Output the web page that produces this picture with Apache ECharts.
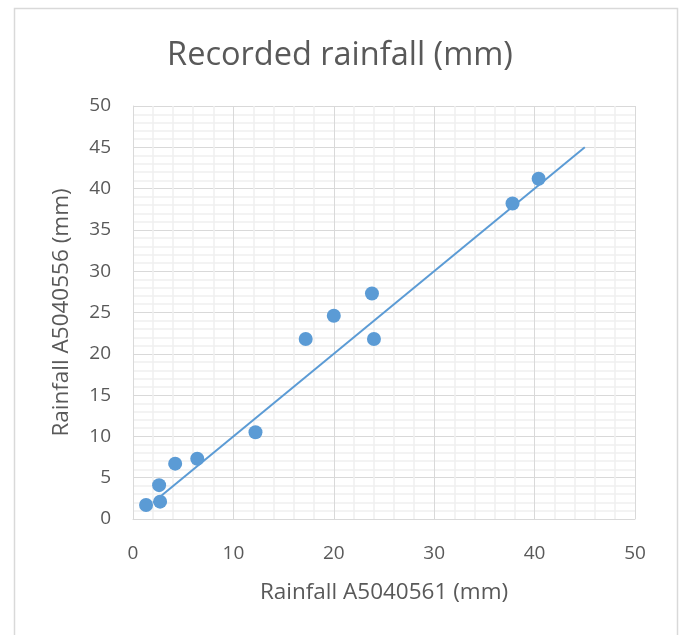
<!DOCTYPE html>
<html>
<head>
<meta charset="utf-8">
<script src="https://cdn.jsdelivr.net/npm/echarts@6/dist/echarts.min.js"></script>
<style>
  html, body { margin: 0; padding: 0; background: #ffffff; }
  #chart { width: 680px; height: 635px; }
</style>
</head>
<body>
<div id="chart"></div>
<script>
// Paired gauge readings (mm): station A5040561 on x, A5040556 on y
const rainA5040561 = [1.3, 2.7, 2.6, 4.2, 6.4, 12.2, 17.2, 20.0, 23.8, 24.0, 37.8, 40.4];
const rainA5040556 = [1.7, 2.1, 4.1, 6.7, 7.3, 10.5, 21.8, 24.6, 27.3, 21.8, 38.2, 41.2];

// 1:1 reference line endpoints
const refLineX = [2, 45];
const refLineY = [2, 45];

const titleText = 'Recorded rainfall (mm)';
const xAxisName = 'Rainfall A5040561 (mm)';
const yAxisName = 'Rainfall A5040556 (mm)';

const textColor = '#595959';
const markColor = '#5B9BD5';
const fontFamily = '"Open Sans", "Liberation Sans", sans-serif';

const points = rainA5040561.map((x, i) => [x, rainA5040556[i]]);
const refLine = refLineX.map((x, i) => [x, refLineY[i]]);

const chart = echarts.init(document.getElementById('chart'), null, { renderer: 'canvas' });

const axisCommon = {
  type: 'value',
  min: 0,
  max: 50,
  nameLocation: 'middle',
  nameTextStyle: { color: textColor, fontSize: 22.5, fontFamily },
  axisLine: { show: true, lineStyle: { color: '#d9d9d9', width: 1 } },
  axisTick: { show: false },
  minorTick: { show: false, splitNumber: 5 },
  axisLabel: { color: textColor, fontSize: 19, fontFamily },
  splitLine: { show: true, lineStyle: { color: '#d9d9d9', width: 1 } },
  minorSplitLine: { show: true, lineStyle: { color: '#efefef', width: 1.5 } }
};

chart.setOption({
  backgroundColor: '#ffffff',
  animation: false,
  graphic: [{
    type: 'rect',
    left: 12,
    top: 6,
    shape: { width: 663, height: 640 },
    style: { fill: 'none', stroke: '#d9d9d9', lineWidth: 1.5 },
    z: -10
  }],
  title: {
    text: titleText,
    left: 'center',
    top: 34,
    textStyle: { color: textColor, fontSize: 32.5, fontWeight: 'normal', fontFamily }
  },
  grid: { left: 133, right: 45, top: 106, bottom: 116, containLabel: false },
  xAxis: Object.assign({}, axisCommon, {
    interval: 10,
    name: xAxisName,
    nameGap: 62,
    axisLabel: Object.assign({}, axisCommon.axisLabel, { margin: 25 })
  }),
  yAxis: Object.assign({}, axisCommon, {
    interval: 5,
    name: yAxisName,
    nameGap: 60,
    axisLabel: Object.assign({}, axisCommon.axisLabel, { margin: 22 })
  }),
  series: [
    {
      type: 'line',
      data: refLine,
      showSymbol: false,
      symbol: 'none',
      lineStyle: { color: markColor, width: 2 },
      z: 2,
      silent: true
    },
    {
      type: 'scatter',
      data: points,
      symbol: 'circle',
      symbolSize: 14,
      itemStyle: { color: markColor, opacity: 1 },
      z: 3
    }
  ]
});
</script>
</body>
</html>
